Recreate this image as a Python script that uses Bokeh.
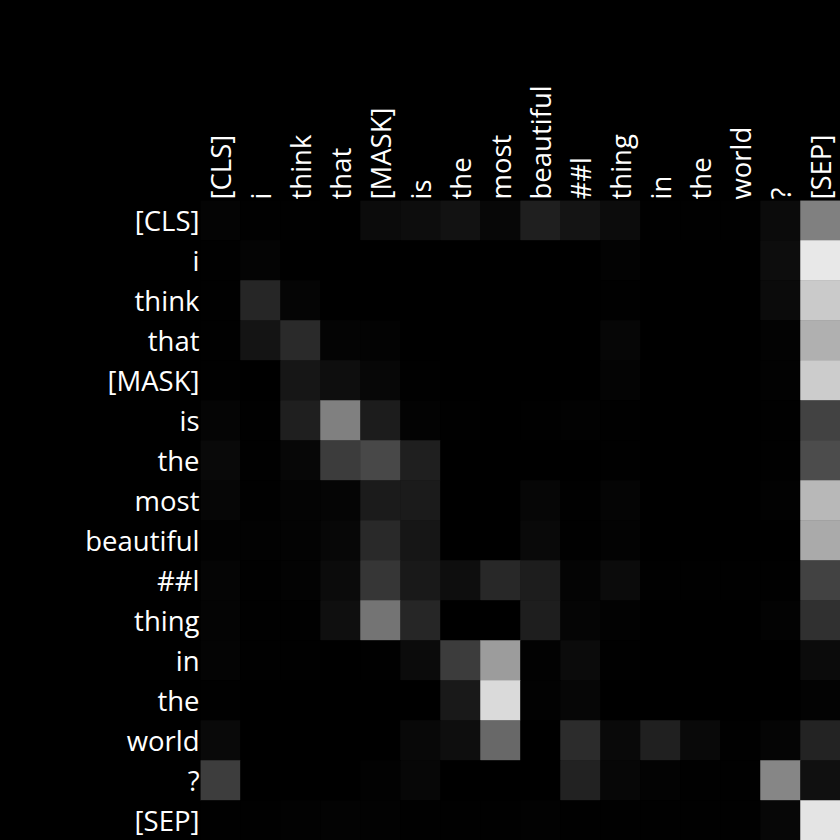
from bokeh.plotting import figure
from bokeh.models import Range1d, FixedTicker, LinearColorMapper, ColumnDataSource
from bokeh.transform import transform
from bokeh.embed import file_html
from bokeh.resources import INLINE

tokens = ["[CLS]", "i", "think", "that", "[MASK]", "is", "the", "most",
          "beautiful", "##l", "thing", "in", "the", "world", "?", "[SEP]"]

# attention weights (rows = query token, columns = key token)
attention = [
    [0.016, 0.004, 0.004, 0.000, 0.043, 0.051, 0.071, 0.031, 0.122, 0.082, 0.047, 0.004, 0.004, 0.004, 0.043, 0.502],
    [0.004, 0.016, 0.000, 0.000, 0.000, 0.000, 0.000, 0.000, 0.000, 0.000, 0.012, 0.000, 0.000, 0.000, 0.051, 0.910],
    [0.004, 0.149, 0.020, 0.000, 0.000, 0.000, 0.000, 0.000, 0.000, 0.000, 0.004, 0.000, 0.000, 0.000, 0.043, 0.792],
    [0.004, 0.082, 0.165, 0.016, 0.012, 0.000, 0.000, 0.000, 0.000, 0.000, 0.024, 0.000, 0.000, 0.000, 0.012, 0.690],
    [0.004, 0.000, 0.086, 0.055, 0.031, 0.004, 0.000, 0.000, 0.000, 0.000, 0.016, 0.000, 0.000, 0.000, 0.008, 0.800],
    [0.020, 0.004, 0.122, 0.502, 0.110, 0.012, 0.004, 0.000, 0.004, 0.008, 0.004, 0.000, 0.000, 0.000, 0.004, 0.259],
    [0.039, 0.004, 0.031, 0.235, 0.282, 0.122, 0.000, 0.000, 0.000, 0.000, 0.004, 0.000, 0.000, 0.000, 0.004, 0.298],
    [0.024, 0.004, 0.016, 0.020, 0.106, 0.106, 0.000, 0.000, 0.024, 0.004, 0.020, 0.000, 0.000, 0.000, 0.008, 0.722],
    [0.008, 0.008, 0.012, 0.031, 0.161, 0.086, 0.000, 0.000, 0.039, 0.004, 0.012, 0.000, 0.000, 0.000, 0.000, 0.667],
    [0.020, 0.004, 0.012, 0.043, 0.212, 0.098, 0.055, 0.157, 0.114, 0.016, 0.043, 0.004, 0.004, 0.004, 0.004, 0.259],
    [0.016, 0.004, 0.004, 0.059, 0.455, 0.149, 0.000, 0.000, 0.118, 0.020, 0.008, 0.000, 0.000, 0.000, 0.012, 0.188],
    [0.016, 0.004, 0.004, 0.000, 0.004, 0.043, 0.235, 0.612, 0.008, 0.043, 0.004, 0.000, 0.000, 0.000, 0.000, 0.043],
    [0.004, 0.000, 0.000, 0.000, 0.000, 0.000, 0.098, 0.855, 0.008, 0.024, 0.000, 0.000, 0.000, 0.000, 0.000, 0.012],
    [0.039, 0.000, 0.000, 0.000, 0.000, 0.035, 0.055, 0.408, 0.000, 0.173, 0.039, 0.125, 0.039, 0.004, 0.020, 0.137],
    [0.239, 0.000, 0.000, 0.000, 0.008, 0.031, 0.000, 0.000, 0.000, 0.133, 0.031, 0.012, 0.004, 0.004, 0.525, 0.063],
    [0.004, 0.004, 0.008, 0.012, 0.008, 0.004, 0.004, 0.004, 0.008, 0.004, 0.004, 0.004, 0.004, 0.004, 0.031, 0.894],
]

n = len(tokens)
xs, ys, vals = [], [], []
for r, row in enumerate(attention):
    for c, v in enumerate(row):
        xs.append(c + 0.5)
        ys.append(r + 0.5)
        vals.append(v)
src = ColumnDataSource(dict(x=xs, y=ys, v=vals))

greys = ["#%02x%02x%02x" % (i, i, i) for i in range(256)]
mapper = LinearColorMapper(palette=greys, low=0.0, high=1.0)

p = figure(width=840, height=840, output_backend="svg", toolbar_location=None,
           x_range=Range1d(0, n), y_range=Range1d(n, 0),
           x_axis_location="above",
           min_border_left=200, min_border_top=200, min_border_right=0, min_border_bottom=0)
p.styles = {"background-color": "black"}
p.background_fill_color = "black"
p.border_fill_color = "black"
p.outline_line_color = None
p.grid.visible = False

p.rect(x="x", y="y", width=1, height=1, source=src,
       fill_color=transform("v", mapper), line_color=transform("v", mapper), line_width=0.5)

ticks = [i + 0.5 for i in range(n)]
overrides = {t: tok for t, tok in zip(ticks, tokens)}
for ax in (p.xaxis[0], p.yaxis[0]):
    ax.ticker = FixedTicker(ticks=ticks)
    ax.major_label_overrides = overrides
    ax.major_label_text_color = "white"
    ax.major_label_text_font = "Open Sans"
    ax.major_label_text_font_size = "27.5px"
    ax.axis_line_color = None
    ax.major_tick_line_color = None
    ax.minor_tick_line_color = None
    ax.major_tick_in = 0
    ax.major_tick_out = 0
    ax.major_label_standoff = 1
p.xaxis[0].major_label_orientation = "vertical"

open("out.html", "w").write(file_html(p, INLINE))
